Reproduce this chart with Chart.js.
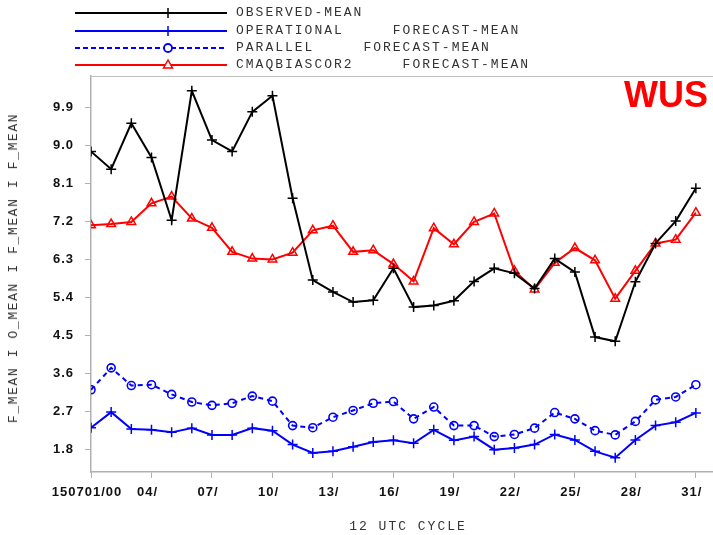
<!DOCTYPE html>
<html>
<head>
<meta charset="utf-8">
<script src="https://cdn.jsdelivr.net/npm/chart.js@4/dist/chart.umd.min.js"></script>
<style>
  html, body { margin: 0; padding: 0; background: #fff; overflow: hidden; }
  #wrap { position: relative; width: 713px; height: 535px; }
  #c { position: absolute; left: 0; top: 0; }
  .mono { position: absolute; font-family: "Liberation Mono", "DejaVu Sans Mono", monospace; font-size: 13px; letter-spacing: 2px; color: #333; white-space: pre; line-height: 14px; }
  #wus { position: absolute; left: 624px; top: 77px; font-family: "Liberation Sans", Arial, sans-serif; font-weight: bold; font-size: 36px; line-height: 36px; color: #ff0000; }
  #ytitle { position: absolute; left: 14px; top: 268px; transform: translate(-50%, -50%) rotate(-90deg); letter-spacing: 1.6px; }
  #xtitle { position: absolute; left: 408px; top: 527px; transform: translate(-50%, -50%); }
  svg { position: absolute; left: 0; top: 0; }
</style>
</head>
<body>
<div id="wrap">
  <canvas id="c" width="713" height="535"></canvas>
  <svg width="713" height="80" id="legsvg"></svg>
  <div class="mono" style="left:236px; top:6px;">OBSERVED-MEAN</div>
  <div class="mono" style="left:236px; top:24px;">OPERATIONAL     FORECAST-MEAN</div>
  <div class="mono" style="left:236px; top:41px;">PARALLEL     FORECAST-MEAN</div>
  <div class="mono" style="left:236px; top:58px;">CMAQBIASCOR2     FORECAST-MEAN</div>
  <div id="wus">WUS</div>
  <div class="mono" id="ytitle">F_MEAN I O_MEAN I F_MEAN I F_MEAN</div>
  <div class="mono" id="xtitle">12 UTC CYCLE</div>
</div>
<script>
// ---- data ----
const days = [1,2,3,4,5,6,7,8,9,10,11,12,13,14,15,16,17,18,19,20,21,22,23,24,25,26,27,28,29,30,31];
const observedMean = [8.86, 8.44, 9.53, 8.72, 7.23, 10.30, 9.13, 8.86, 9.80, 10.18, 7.75, 5.81, 5.53, 5.29, 5.33, 6.09, 5.17, 5.21, 5.32, 5.78, 6.09, 5.97, 5.61, 6.32, 6.00, 4.46, 4.36, 5.77, 6.68, 7.21, 7.99];
const operationalMean = [2.31, 2.68, 2.28, 2.26, 2.20, 2.30, 2.14, 2.14, 2.30, 2.24, 1.91, 1.71, 1.75, 1.86, 1.97, 2.01, 1.94, 2.26, 2.01, 2.10, 1.79, 1.83, 1.91, 2.15, 2.02, 1.75, 1.60, 2.02, 2.36, 2.44, 2.66];
const parallelMean = [3.21, 3.73, 3.31, 3.33, 3.10, 2.92, 2.84, 2.89, 3.06, 2.94, 2.36, 2.31, 2.56, 2.72, 2.89, 2.93, 2.52, 2.80, 2.36, 2.36, 2.10, 2.15, 2.30, 2.67, 2.52, 2.24, 2.14, 2.46, 2.97, 3.04, 3.33];
const cmaqBiasCor2Mean = [7.11, 7.14, 7.19, 7.63, 7.79, 7.27, 7.05, 6.48, 6.32, 6.30, 6.46, 6.99, 7.10, 6.48, 6.52, 6.19, 5.78, 7.04, 6.66, 7.19, 7.39, 6.03, 5.59, 6.22, 6.57, 6.28, 5.37, 6.03, 6.68, 6.77, 7.41];
const xTickDays = [1, 4, 7, 10, 13, 16, 19, 22, 25, 28, 31];
const xTickLabels = ["150701/00", "04/", "07/", "10/", "13/", "16/", "19/", "22/", "25/", "28/", "31/"];
const yTickValues = [1.8, 2.7, 3.6, 4.5, 5.4, 6.3, 7.2, 8.1, 9.0, 9.9];

// ---- legend line samples ----
(function () {
  const svg = document.getElementById('legsvg');
  const rows = [
    { y: 13, color: '#000000', dash: '', marker: 'plus' },
    { y: 31, color: '#0000ff', dash: '', marker: 'plus' },
    { y: 48, color: '#0000ff', dash: '5,3', marker: 'circle' },
    { y: 65, color: '#ff0000', dash: '', marker: 'triangle' }
  ];
  let s = '';
  rows.forEach(r => {
    s += `<line x1="75" y1="${r.y}" x2="227" y2="${r.y}" stroke="${r.color}" stroke-width="2" ${r.dash ? `stroke-dasharray="${r.dash}"` : ''}/>`;
    const mx = 168;
    if (r.marker === 'plus') {
      s += `<line x1="${mx}" y1="${r.y - 5}" x2="${mx}" y2="${r.y + 5}" stroke="${r.color}" stroke-width="1.5"/>`;
    } else if (r.marker === 'circle') {
      s += `<circle cx="${mx}" cy="${r.y}" r="4" fill="#fff" stroke="${r.color}" stroke-width="1.8"/>`;
    } else {
      s += `<polygon points="${mx},${r.y - 5} ${mx - 4.5},${r.y + 3} ${mx + 4.5},${r.y + 3}" fill="#fff" stroke="${r.color}" stroke-width="1.5"/>`;
    }
  });
  svg.innerHTML = s;
})();

const toXY = arr => arr.map((v, i) => ({ x: days[i], y: v }));

const canvasExtras = {
  id: 'canvasExtras',
  beforeDraw(chart) {
    chart.ctx.letterSpacing = '1px';
  },
  afterDraw(chart) {
    const { ctx, chartArea } = chart;
    ctx.save();
    ctx.strokeStyle = '#c0c0c0';
    ctx.lineWidth = 1;
    ctx.beginPath();
    ctx.moveTo(chartArea.left, chartArea.top + 0.5);
    ctx.lineTo(chartArea.right, chartArea.top + 0.5);
    ctx.stroke();
    ctx.restore();
    ctx.letterSpacing = '0px';
  }
};

new Chart(document.getElementById('c'), {
  type: 'line',
  data: {
    datasets: [
      {
        label: 'OBSERVED-MEAN', data: toXY(observedMean),
        borderColor: '#000000', borderWidth: 2,
        pointStyle: 'cross', pointRadius: 5, pointBorderWidth: 1.5, pointBorderColor: '#000000'
      },
      {
        label: 'OPERATIONAL FORECAST-MEAN', data: toXY(operationalMean),
        borderColor: '#0000ff', borderWidth: 2,
        pointStyle: 'cross', pointRadius: 5, pointBorderWidth: 1.5, pointBorderColor: '#0000ff'
      },
      {
        label: 'PARALLEL FORECAST-MEAN', data: toXY(parallelMean),
        borderColor: '#0000ff', borderWidth: 2, borderDash: [5, 4],
        pointStyle: 'circle', pointRadius: 4, pointBorderWidth: 1.6, pointBorderColor: '#0000ff',
        pointBackgroundColor: 'rgba(255,255,255,0)'
      },
      {
        label: 'CMAQBIASCOR2 FORECAST-MEAN', data: toXY(cmaqBiasCor2Mean),
        borderColor: '#ff0000', borderWidth: 2,
        pointStyle: 'triangle', pointRadius: 5, pointBorderWidth: 1.5, pointBorderColor: '#ff0000',
        pointBackgroundColor: 'rgba(255,255,255,0)'
      }
    ]
  },
  options: {
    responsive: false,
    animation: false,
    devicePixelRatio: 1,
    layout: { autoPadding: false, padding: { top: 76, left: 0, right: 0, bottom: 0 } },
    elements: { line: { tension: 0 } },
    plugins: { legend: { display: false }, tooltip: { enabled: false } },
    scales: {
      x: {
        type: 'linear', min: 1, max: 31.85,
        afterBuildTicks: s => { s.ticks = xTickDays.map(v => ({ value: v })); },
        afterFit: s => { s.height = 63; s.paddingLeft = 0; s.paddingRight = 0; },
        ticks: {
          autoSkip: false, maxRotation: 0, padding: 7, labelOffset: -4,
          color: '#111', font: { family: '"Liberation Sans", Arial, sans-serif', size: 13, weight: 'bold' },
          callback: (v) => { const i = xTickDays.indexOf(v); return i >= 0 ? xTickLabels[i] : ''; }
        },
        grid: { drawOnChartArea: false, drawTicks: true, tickLength: 6, color: '#b0b0b0', lineWidth: 1 },
        border: { color: '#b0b0b0', width: 1.5 }
      },
      y: {
        type: 'linear', min: 1.26, max: 10.65,
        afterBuildTicks: s => { s.ticks = yTickValues.map(v => ({ value: v })); },
        afterFit: s => { s.width = 91; s.paddingTop = 0; s.paddingBottom = 0; },
        ticks: {
          padding: 11,
          color: '#111', font: { family: '"Liberation Sans", Arial, sans-serif', size: 13, weight: 'bold' },
          callback: v => Number(v).toFixed(1)
        },
        grid: { drawOnChartArea: false, drawTicks: true, tickLength: 6, color: '#b0b0b0', lineWidth: 1 },
        border: { color: '#b0b0b0', width: 1.5 }
      }
    }
  },
  plugins: [canvasExtras]
});
</script>
</body>
</html>
